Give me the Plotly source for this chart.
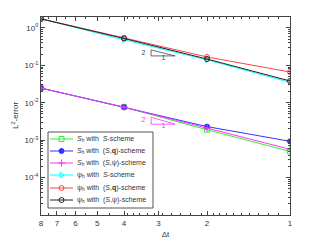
import plotly.graph_objects as go
import numpy as np

dt = [8, 4, 2, 1]
S_S = [0.0246, 0.0076, 0.0019, 0.00050]
S_Sq = [0.0246, 0.0077, 0.0023, 0.00093]
S_Spsi = [0.0246, 0.0076, 0.0021, 0.00057]
P_S = [1.74, 0.48, 0.14, 0.035]
P_Sq = [1.74, 0.54, 0.167, 0.066]
P_Spsi = [1.74, 0.52, 0.147, 0.038]

names = ["<i>S</i><sub>h</sub> with  <i>S</i>-scheme",
         "<i>S</i><sub>h</sub> with  (<i>S</i>,<b>q</b>)-scheme",
         "<i>S</i><sub>h</sub> with  (<i>S</i>,ψ)-scheme",
         "ψ<sub>h</sub> with  <i>S</i>-scheme",
         "ψ<sub>h</sub> with  (<i>S</i>,<b>q</b>)-scheme",
         "ψ<sub>h</sub> with  (<i>S</i>,ψ)-scheme"]
colors = ["#33ee33", "#3333ff", "#ff33ff", "#00ffff", "#ff4444", "#222222"]
symbols = ["square-open", "circle", "cross-thin-open", "triangle-right-open", "circle-open", "circle-open"]
series = [S_S, S_Sq, S_Spsi, P_S, P_Sq, P_Spsi]

# slope triangles
tri1_x = [3.19, 3.19, 2.61, 3.19]
tri1_y = [0.257, 0.178, 0.178, 0.257]
tri2_x = [3.19, 3.19, 2.61, 3.19]
tri2_y = [0.0041, 0.00267, 0.00267, 0.0041]

# plot-area geometry (pixels)
L, R, T, B = 41, 290, 17, 215
W, H = R - L, B - T


def px(x):
    return (x - L) / W


def py(y):
    return (B - y) / H


# manual legend layout (pixels)
leg_box = [48, 132, 153, 208]
leg_rows = [139, 151, 163, 175, 188, 200]
leg_line = [50, 73]
leg_text_x = 75

fig = go.Figure()
for s, n, c, m in zip(series, names, colors, symbols):
    fig.add_trace(go.Scatter(x=dt, y=s, name=n, mode="lines+markers", showlegend=False,
                             line=dict(color=c, width=1),
                             marker=dict(symbol=m, size=5, color=c,
                                         line=dict(color=c, width=1))))

fig.add_trace(go.Scatter(x=tri1_x, y=tri1_y, mode="lines", showlegend=False,
                         line=dict(color="#444444", width=0.8)))
fig.add_trace(go.Scatter(x=tri2_x, y=tri2_y, mode="lines", showlegend=False,
                         line=dict(color="#ff33ff", width=0.8)))
fig.add_trace(go.Scatter(x=[3.4, 2.88], y=[0.213, 0.152], mode="text", text=["2", "1"],
                         showlegend=False, textfont=dict(size=7, color="#444444")))
fig.add_trace(go.Scatter(x=[3.4, 2.88], y=[0.0033, 0.00228], mode="text", text=["2", "1"],
                         showlegend=False, textfont=dict(size=7, color="#ff33ff")))

# legend samples on an overlay axis in paper units
for row, n, c, m in zip(leg_rows, names, colors, symbols):
    fig.add_trace(go.Scatter(x=[px(leg_line[0]), px(leg_line[1])], y=[py(row), py(row)],
                             mode="lines", xaxis="x2", yaxis="y2", showlegend=False,
                             line=dict(color=c, width=1), hoverinfo="skip"))
    fig.add_trace(go.Scatter(x=[px((leg_line[0] + leg_line[1]) / 2)], y=[py(row)],
                             mode="markers", xaxis="x2", yaxis="y2", showlegend=False,
                             marker=dict(symbol=m, size=5, color=c, line=dict(color=c, width=1)),
                             hoverinfo="skip"))
    fig.add_annotation(x=px(leg_text_x), y=py(row), xref="paper", yref="paper",
                       text=n, showarrow=False, xanchor="left", yanchor="middle",
                       font=dict(size=7, color="#333333"))

fig.add_shape(type="rect", xref="paper", yref="paper",
              x0=px(leg_box[0]), x1=px(leg_box[2]), y0=py(leg_box[3]), y1=py(leg_box[1]),
              line=dict(color="#555555", width=1), fillcolor="white", layer="below")

# y-axis title
fig.add_annotation(x=px(15), y=py(116), xref="paper", yref="paper", text="L<sup>2</sup>-error",
                   textangle=-90, showarrow=False, xanchor="center", yanchor="middle",
                   font=dict(size=8, color="#333333"))

xminor = [v / 10 for v in range(11, 20)] + [v / 10 for v in range(21, 40, 2)] + [4.5, 5.5, 6.5, 7.5]
yminor = []
for e in range(-5, 1):
    for k in range(2, 10):
        yminor.append(k * 10.0 ** e)

fig.update_layout(
    template="none",
    width=321, height=241,
    margin=dict(l=L, r=321 - R, t=T, b=241 - B, autoexpand=False),
    plot_bgcolor="rgba(0,0,0,0)", paper_bgcolor="white",
    font=dict(family="Liberation Sans, Arial, sans-serif", size=8, color="#333333"),
    showlegend=False,
    xaxis=dict(type="log", range=[np.log10(8), 0], autorange=False, automargin=False,
               tickvals=[1, 2, 3, 4, 5, 6, 7, 8], ticktext=["1", "2", "3", "4", "5", "6", "7", "8"],
               ticks="inside", ticklen=4, mirror="ticks", showline=True, linecolor="#444444",
               linewidth=1, showgrid=False, zeroline=False,
               minor=dict(ticks="inside", ticklen=2, tickvals=xminor, tickcolor="#444444"),
               title=dict(text="Δt", font=dict(size=8), standoff=4)),
    yaxis=dict(type="log", range=[-5, 0.29], autorange=False, automargin=False,
               tickvals=[1e-4, 1e-3, 1e-2, 1e-1, 1],
               ticktext=["10<sup>-4</sup>", "10<sup>-3</sup>", "10<sup>-2</sup>", "10<sup>-1</sup>", "10<sup>0</sup>"],
               ticks="inside", ticklen=4, mirror="ticks", showline=True, linecolor="#444444",
               linewidth=1, showgrid=False, zeroline=False,
               minor=dict(ticks="inside", ticklen=2, tickvals=yminor, tickcolor="#444444")),
    xaxis2=dict(overlaying="x", range=[0, 1], visible=False, domain=[0, 1], automargin=False),
    yaxis2=dict(overlaying="y", range=[0, 1], visible=False, anchor="x2", automargin=False),
)

fig.write_html("out.html", config={"displayModeBar": False},
               post_script="document.body.style.margin='0';")
